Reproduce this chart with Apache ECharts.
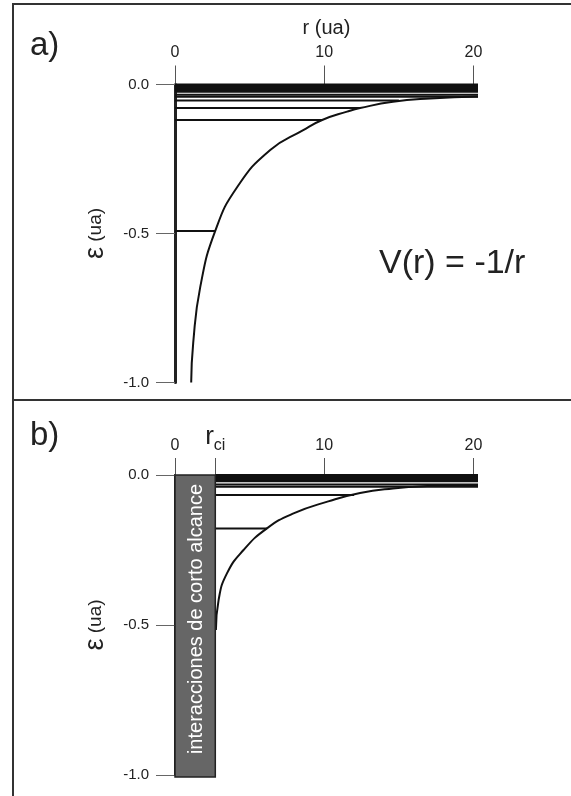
<!DOCTYPE html>
<html>
<head>
<meta charset="utf-8">
<script src="https://cdn.jsdelivr.net/npm/echarts@6/dist/echarts.min.js"></script>
<style>
  html, body { margin: 0; padding: 0; background: #fff; }
  #chart { width: 571px; height: 796px; }
</style>
</head>
<body>
<div id="chart"></div>
<script>
// eje r (ua) y eje de energía (ua)
const rMax = 20.3
const rTicksA = [0, 10, 20]
const rTicksB = [0, 2.7, 10, 20]
const rCi = 2.7
const eTicks = [0, -0.5, -1.0]

// a) potencial -1/r
const curveA = [
  [1.085, -1.0], [1.22, -0.867], [1.69, -0.68], [2.69, -0.492], [4.17, -0.344],
  [6.38, -0.22], [8.59, -0.153], [9.86, -0.119], [11.53, -0.091], [12.4, -0.079],
  [14.6, -0.058], [17.1, -0.047], [20.3, -0.04]
]
const levelsA = [0, -0.003, -0.006, -0.009, -0.012, -0.015, -0.018, -0.021, -0.024,
  -0.034, -0.041, -0.054, -0.079, -0.119, -0.492]
const levelEndsA = [20.3, 20.3, 20.3, 20.3, 20.3, 20.3, 20.3, 20.3, 20.3,
  20.3, 20.3, 15.0, 12.4, 9.86, 2.69]

// b) con interacciones de corto alcance
const curveB = [
  [2.74, -0.517], [2.92, -0.417], [3.48, -0.328], [4.59, -0.25], [6.16, -0.178],
  [7.94, -0.128], [10.27, -0.088], [12.4, -0.06], [14.6, -0.045], [16.9, -0.037],
  [20.3, -0.033]
]
const levelsB = [0, -0.003, -0.006, -0.009, -0.012, -0.015, -0.018, -0.021,
  -0.032, -0.039, -0.067, -0.178]
const levelEndsB = [20.3, 20.3, 20.3, 20.3, 20.3, 20.3, 20.3, 20.3,
  20.3, 20.3, 12.0, 6.16]

const FONT = '"Liberation Sans", Arial, sans-serif'
const INK = '#222'

const myChart = echarts.init(document.getElementById('chart'))

const rAxis = (gridIndex, ticks) => ({
  type: 'value',
  gridIndex,
  position: 'top',
  min: 0,
  max: rMax,
  name: gridIndex === 0 ? 'r (ua)' : '',
  nameLocation: 'middle',
  nameGap: 46,
  nameTextStyle: { fontSize: 20, color: INK, fontFamily: FONT },
  axisLine: { show: false, onZero: false },
  splitLine: { show: false },
  axisTick: { show: true, customValues: ticks, length: gridIndex === 0 ? 19 : 17, lineStyle: { color: '#555', width: 1 } },
  axisLabel: {
    customValues: ticks,
    margin: gridIndex === 0 ? 24 : 21,
    fontSize: 16,
    color: INK,
    fontFamily: FONT,
    formatter: v => (v === rCi ? '{r|r}{s|ci}' : String(v)),
    rich: {
      r: { fontSize: 26, color: INK, fontFamily: FONT, verticalAlign: 'bottom', padding: [0, 0, 4, 0] },
      s: { fontSize: 16, color: INK, fontFamily: FONT, verticalAlign: 'bottom' }
    }
  }
})

const eAxis = (gridIndex, lineWidth) => ({
  type: 'value',
  gridIndex,
  min: -1,
  max: 0,
  interval: 0.5,
  name: '{e|ε}{u| (ua)}',
  nameLocation: 'middle',
  nameRotate: 90,
  nameGap: 66,
  nameTextStyle: {
    rich: {
      e: { fontSize: 27, color: INK, fontFamily: FONT },
      u: { fontSize: 19, color: INK, fontFamily: FONT }
    }
  },
  axisLine: { show: true, onZero: false, lineStyle: { color: INK, width: lineWidth } },
  splitLine: { show: false },
  axisTick: { show: true, length: 19, lineStyle: { color: '#666', width: 1 } },
  axisLabel: {
    margin: 26,
    fontSize: 15,
    color: INK,
    fontFamily: FONT,
    formatter: v => v.toFixed(1)
  }
})

const levelSeries = (idx, levels, ends, start) => levels.map((e, i) => ({
  type: 'line',
  xAxisIndex: idx,
  yAxisIndex: idx,
  symbol: 'none',
  clip: false,
  silent: true,
  lineStyle: { color: '#111', width: 2 },
  data: [[start, e], [ends[i], e]]
}))

const curveSeries = (idx, data) => ({
  type: 'line',
  xAxisIndex: idx,
  yAxisIndex: idx,
  symbol: 'none',
  smooth: 0.5,
  clip: false,
  silent: true,
  lineStyle: { color: '#111', width: 2 },
  data
})

const option = {
  animation: false,
  backgroundColor: '#fff',
  grid: [
    { left: 175, top: 84.5, width: 303, height: 298 },
    { left: 175, top: 475, width: 303, height: 300 }
  ],
  xAxis: [rAxis(0, rTicksA), rAxis(1, rTicksB)],
  yAxis: [eAxis(0, 3), eAxis(1, 2)],
  graphic: [
    { type: 'rect', shape: { x: 13, y: 4, width: 600, height: 396 }, style: { fill: 'none', stroke: '#333', lineWidth: 2 }, z: 100 },
    { type: 'rect', shape: { x: 13, y: 400, width: 600, height: 420 }, style: { fill: 'none', stroke: '#333', lineWidth: 2 }, z: 100 },
    { type: 'text', x: 30, y: 46, style: { text: 'a)', fill: INK, font: '33px ' + FONT, textVerticalAlign: 'middle' } },
    { type: 'text', x: 30, y: 436, style: { text: 'b)', fill: INK, font: '33px ' + FONT, textVerticalAlign: 'middle' } },
    { type: 'text', x: 379, y: 264, style: { text: 'V(r) = -1/r', fill: INK, font: '34px ' + FONT, textVerticalAlign: 'middle' } }
  ],
  series: [
    curveSeries(0, curveA),
    ...levelSeries(0, levelsA, levelEndsA, 0),
    curveSeries(1, curveB),
    ...levelSeries(1, levelsB, levelEndsB, rCi),
    {
      type: 'custom',
      xAxisIndex: 1,
      yAxisIndex: 1,
      silent: true,
      z: 5,
      data: [[0, rCi, 0, -1]],
      renderItem: (params, api) => {
        const p0 = api.coord([api.value(0), api.value(2)])
        const p1 = api.coord([api.value(1), api.value(3)])
        return {
          type: 'group',
          children: [
            {
              type: 'rect',
              shape: { x: p0[0], y: p0[1], width: p1[0] - p0[0], height: p1[1] - p0[1] + 2 },
              style: { fill: '#666', stroke: '#222', lineWidth: 1.5 }
            },
            {
              type: 'text',
              x: (p0[0] + p1[0]) / 2 + 1,
              y: (p0[1] + p1[1]) / 2 - 6,
              rotation: Math.PI / 2,
              style: {
                text: 'interacciones de corto alcance',
                fill: '#fff',
                font: '20px ' + FONT,
                align: 'center',
                verticalAlign: 'middle'
              }
            }
          ]
        }
      }
    }
  ]
}

myChart.setOption(option)

window.addEventListener('resize', () => {
  myChart?.resize()
})
</script>
</body>
</html>
